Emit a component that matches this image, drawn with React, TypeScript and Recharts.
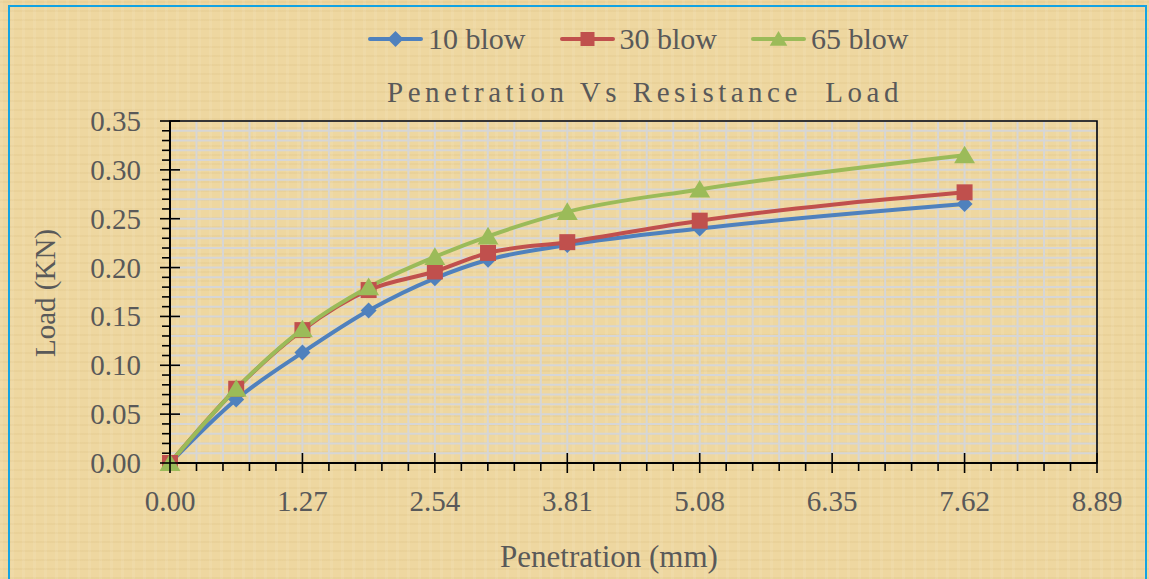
import React from 'react';
import { LineChart, Line, XAxis, YAxis, CartesianGrid, ReferenceArea } from 'recharts';

// values
const penetration = [0, 0.635, 1.27, 1.905, 2.54, 3.05, 3.81, 5.08, 7.62];
const blow10 = [0, 0.065, 0.113, 0.156, 0.189, 0.208, 0.223, 0.24, 0.265];
const blow30 = [0, 0.076, 0.136, 0.177, 0.196, 0.215, 0.226, 0.248, 0.277];
const blow65 = [0, 0.076, 0.137, 0.18, 0.211, 0.232, 0.257, 0.28, 0.315];
const seriesNames = ['10 blow', '30 blow', '65 blow'];
const seriesColors = ['#4F81BD', '#C0504D', '#9BBB59'];

// axis ticks: majors get labels, minors are gridlines + small ticks
const xMajor = 1.27;
const yMajor = 0.05;
const xTicks = Array.from({ length: 36 }, (_, i) => +(i * 0.254).toFixed(3));
const yTicks = Array.from({ length: 36 }, (_, i) => +(i * 0.01).toFixed(2));

const data = penetration.map((x, i) => ({
  x,
  b10: blow10[i],
  b30: blow30[i],
  b65: blow65[i],
}));

const GRAY = '#595959';
const FONT = '"Liberation Serif", "Times New Roman", serif';

const isMajor = (v: number, step: number) => Math.abs(v / step - Math.round(v / step)) < 1e-6;

const XTick = (props: any) => {
  const { x, y, payload } = props;
  const major = isMajor(payload.value, xMajor);
  return (
    <g>
      <line x1={x} x2={x} y1={major ? y - 10 : y} y2={y + (major ? 10 : 8)} stroke="#000" strokeWidth={1.6} />
      {major && (
        <text x={x} y={y + 48} textAnchor="middle" fill={GRAY} fontSize={29} fontFamily={FONT}>
          {payload.value.toFixed(2)}
        </text>
      )}
    </g>
  );
};

const YTick = (props: any) => {
  const { x, y, payload } = props;
  const major = isMajor(payload.value, yMajor);
  return (
    <g>
      <line x1={x - (major ? 10 : 8)} x2={major ? x + 10 : x} y1={y} y2={y} stroke="#000" strokeWidth={1.6} />
      {major && (
        <text x={x - 29} y={y + 10} textAnchor="end" fill={GRAY} fontSize={29} fontFamily={FONT}>
          {payload.value.toFixed(2)}
        </text>
      )}
    </g>
  );
};

const markerPath = (kind: number, cx: number, cy: number, s: number) => {
  if (kind === 0) return `M${cx},${cy - s}L${cx + s},${cy}L${cx},${cy + s}L${cx - s},${cy}Z`;
  if (kind === 1) return `M${cx - s},${cy - s}H${cx + s}V${cy + s}H${cx - s}Z`;
  return `M${cx},${cy - s}L${cx + s * 1.1},${cy + s * 0.85}H${cx - s * 1.1}Z`;
};

const makeDot = (kind: number, size: number) => (props: any) => {
  const { cx, cy, index } = props;
  if (cx == null || cy == null) return <g key={`m${kind}-${index}`} />;
  return <path key={`m${kind}-${index}`} d={markerPath(kind, cx, cy, size)} fill={seriesColors[kind]} />;
};

const LegendItem = ({ i }: { i: number }) => (
  <div style={{ display: 'flex', alignItems: 'center' }}>
    <svg width={55} height={22} style={{ marginRight: 5 }}>
      <line x1={2} x2={53} y1={11} y2={11} stroke={seriesColors[i]} strokeWidth={4} strokeLinecap="round" />
      <path d={markerPath(i, 27.5, 11, i === 1 ? 7 : 8)} fill={seriesColors[i]} />
    </svg>
    <span style={{ fontSize: 30, lineHeight: '30px' }}>{seriesNames[i]}</span>
  </div>
);

const App: React.FC = () => {
  return (
    <div
      style={{
        position: 'absolute',
        left: 0,
        top: 0,
        width: 1149,
        height: 579,
        overflow: 'hidden',
        fontFamily: FONT,
        color: GRAY,
        background:
          'repeating-linear-gradient(90deg, rgba(255,255,255,0.08) 0 3px, rgba(0,0,0,0) 3px 11px), repeating-linear-gradient(0deg, rgba(160,120,40,0.06) 0 2px, rgba(0,0,0,0) 2px 9px), #eed7a0',
      }}
    >
      <div
        style={{
          position: 'absolute',
          left: 8,
          top: 5,
          width: 1139,
          height: 590,
          border: '2px solid #13a3e3',
          boxSizing: 'border-box',
        }}
      />
      <div style={{ position: 'absolute', left: 368, top: 24, display: 'flex', gap: 34 }}>
        {seriesNames.map((_, i) => (
          <LegendItem key={i} i={i} />
        ))}
      </div>
      <div
        style={{
          position: 'absolute',
          left: 0,
          width: 1290,
          top: 78,
          textAlign: 'center',
          fontSize: 29,
          lineHeight: '29px',
          letterSpacing: 4.5,
          whiteSpace: 'pre',
        }}
      >
        {'Penetration Vs Resistance  Load'}
      </div>
      <div
        style={{
          position: 'absolute',
          left: 45,
          top: 293,
          transform: 'translate(-50%, -50%) rotate(-90deg)',
          fontSize: 29,
          lineHeight: '29px',
          whiteSpace: 'nowrap',
        }}
      >
        Load (KN)
      </div>
      <div
        style={{
          position: 'absolute',
          left: 609,
          top: 541,
          transform: 'translateX(-50%)',
          fontSize: 31,
          lineHeight: '31px',
          whiteSpace: 'nowrap',
        }}
      >
        Penetration (mm)
      </div>
      <div style={{ position: 'absolute', left: 0, top: 0 }}>
        <LineChart width={1149} height={579} data={data} margin={{ top: 121, right: 52, bottom: 86, left: 110 }}>
          <CartesianGrid stroke="#d6d6d6" strokeWidth={2} />
          <XAxis
            dataKey="x"
            type="number"
            domain={[0, 8.89]}
            ticks={xTicks}
            interval={0}
            height={30}
            tickSize={0}
            tickMargin={0}
            tickLine={false}
            axisLine={{ stroke: '#000', strokeWidth: 2 }}
            tick={<XTick />}
          />
          <YAxis
            type="number"
            domain={[0, 0.35]}
            ticks={yTicks}
            interval={0}
            width={60}
            tickSize={0}
            tickMargin={0}
            tickLine={false}
            axisLine={{ stroke: '#000', strokeWidth: 2 }}
            tick={<YTick />}
          />
          <ReferenceArea x1={0} x2={8.89} y1={0} y2={0.35} fill="none" stroke="#000" strokeWidth={1.6} />
          <Line
            dataKey="b10"
            type="monotone"
            stroke={seriesColors[0]}
            strokeWidth={4}
            dot={makeDot(0, 8)}
            activeDot={false}
            isAnimationActive={false}
          />
          <Line
            dataKey="b30"
            type="monotone"
            stroke={seriesColors[1]}
            strokeWidth={4}
            dot={makeDot(1, 8)}
            activeDot={false}
            isAnimationActive={false}
          />
          <Line
            dataKey="b65"
            type="monotone"
            stroke={seriesColors[2]}
            strokeWidth={4}
            dot={makeDot(2, 9.5)}
            activeDot={false}
            isAnimationActive={false}
          />
        </LineChart>
      </div>
    </div>
  );
};

export default App;
